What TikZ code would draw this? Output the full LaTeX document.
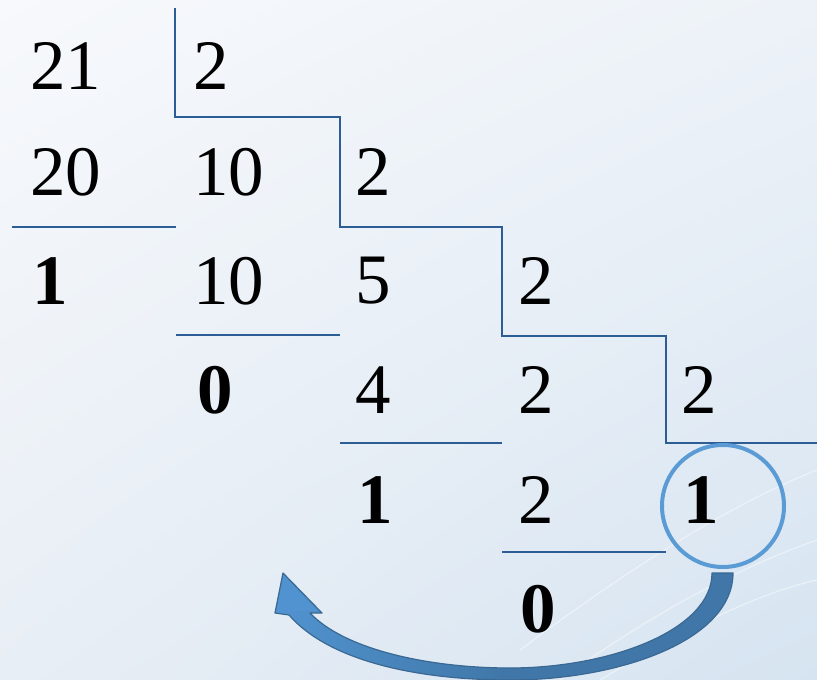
\documentclass[tikz,border=0pt]{standalone}
\usepackage{fontspec}
\setmainfont{Liberation Serif}
\usetikzlibrary{calc,shadings}
\definecolor{rule}{HTML}{2D5D95}
\definecolor{ring}{HTML}{5B9BD5}
\definecolor{arrowedge}{HTML}{3A6893}
\definecolor{arrowdark}{HTML}{4077A8}
\definecolor{arrowlight}{HTML}{5193D0}
\definecolor{bgA}{HTML}{F7F9FC}
\definecolor{bgB}{HTML}{D6E4F1}
\definecolor{bgC}{HTML}{EDF2F8}
\definecolor{bgD}{HTML}{E8EEF5}
\tikzset{
  num/.style={anchor=west, inner sep=0pt, font=\fontsize{71}{71}\selectfont},
  bnum/.style={num, font=\fontsize{71}{71}\selectfont\bfseries},
  stair/.style={draw=rule, line width=2.6pt},
}
\begin{document}
\begin{tikzpicture}[x=1pt, y=-1pt]
% background panel
\shade[upper left=bgA, upper right=bgC, lower left=bgD, lower right=bgB] (0,0) rectangle (817,680);
\useasboundingbox (0,0) rectangle (817,680);
% faint light streaks
\begin{scope}[white, opacity=0.45, line width=1.2pt]
  \draw (520,650) .. controls (640,560) and (740,500) .. (817,470);
  \draw (560,680) .. controls (670,600) and (760,560) .. (817,540);
  \draw (600,680) .. controls (700,620) and (770,590) .. (817,580);
\end{scope}

% column offsets
\def\ca{30}\def\cb{193}\def\cc{355}\def\cd{518}\def\ce{681}
% row centres
\def\ra{66}\def\rb{172}\def\rc{281}\def\rd{390}\def\re{500}\def\rf{609}

\node[num]  (n21)  at (\ca,\ra) {21};
\node[num]  (d1)   at (\cb,\ra) {2};
\node[num]  (n20)  at (\ca,\rb) {20};
\node[num]  (n10)  at (\cb,\rb) {10};
\node[num]  (d2)   at (\cc,\rb) {2};
\node[bnum] (r1)   at (\ca+2,\rc) {1};
\node[num]  (n10b) at (\cb,\rc) {10};
\node[num]  (n5)   at (\cc,\rc) {5};
\node[num]  (d3)   at (\cd,\rc) {2};
\node[bnum] (r2)   at (\cb+4,\rd) {0};
\node[num]  (n4)   at (\cc,\rd) {4};
\node[num]  (n2)   at (\cd,\rd) {2};
\node[num]  (d4)   at (\ce,\rd) {2};
\node[bnum] (r3)   at (\cc+2,\re) {1};
\node[num]  (n2b)  at (\cd,\re) {2};
\node[bnum] (r5)   at (\ce+2,\re) {1};
\node[bnum] (r4)   at (\cd+2,\rf) {0};

% staircase of divisors
\draw[stair] (175,8) -- (175,117) -- (340,117) -- (340,227) -- (502,227)
  -- (502,336) -- (666,336) -- (666,443) -- (817,443);
% subtraction rules
\draw[stair] (12,227) -- (176,227);
\draw[stair] (176,335) -- (340,335);
\draw[stair] (340,443) -- (502,443);
\draw[stair] (502,552) -- (666,552);

% last quotient ringed
\draw[ring, line width=4pt] (723,506) circle (61);

% curved arrow for reading the remainders upward
\shade[left color=arrowlight, right color=arrowdark, middle color=arrowdark,
       draw=arrowedge, line width=1.2pt, line join=round]
  (712,573) -- (733,573)
  .. controls (733,640) and (620,680) .. (510,680)
  .. controls (420,680) and (330,662) .. (289,615)
  -- (275,613) -- (283,573) -- (322,613) -- (310,613)
  .. controls (345,650) and (430,668) .. (510,668)
  .. controls (610,668) and (712,630) .. (712,573) -- cycle;
% lighter arrow head
\fill[arrowlight] (278.5,611) -- (284,577) -- (317,611) -- cycle;
\end{tikzpicture}
\end{document}
